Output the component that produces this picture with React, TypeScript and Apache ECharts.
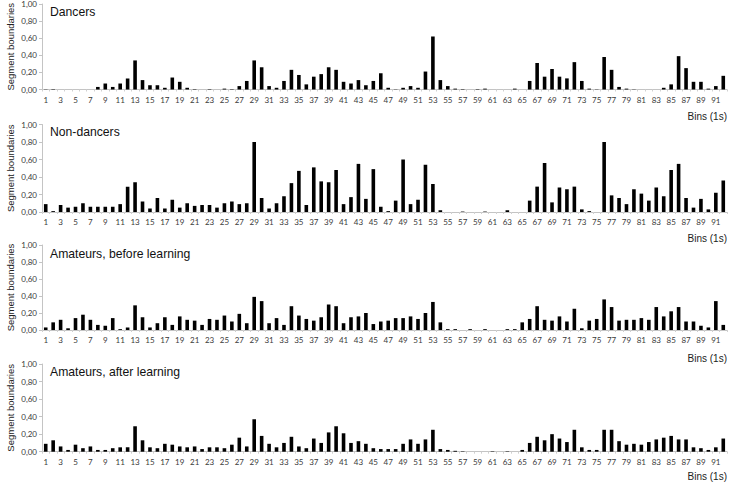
import React, { useEffect, useRef } from "react";
import * as echarts from "echarts";

const bins: string[] = Array.from({ length: 92 }, (_, i) => String(i + 1));

const panelTitles = ["Dancers", "Non-dancers", "Amateurs, before learning", "Amateurs, after learning"];

const dancers = [
  0.003, 0.005, 0, 0, 0, 0, 0, 0.03, 0.07, 0.03,
  0.07, 0.13, 0.34, 0.11, 0.05, 0.05, 0.02, 0.14, 0.09, 0.02,
  0.005, 0, 0.005, 0, 0.01, 0.005, 0.04, 0.10, 0.34, 0.26,
  0.04, 0.02, 0.10, 0.23, 0.17, 0.06, 0.15, 0.18, 0.26, 0.23,
  0.09, 0.07, 0.11, 0.05, 0.10, 0.19, 0.02, 0.003, 0.02, 0.04,
  0.02, 0.21, 0.62, 0.11, 0.04, 0.01, 0.005, 0, 0.005, 0.01,
  0, 0, 0, 0.01, 0, 0.10, 0.31, 0.15, 0.24, 0.15,
  0.13, 0.32, 0.10, 0.01, 0.003, 0.38, 0.23, 0.03, 0.01, 0.003,
  0, 0, 0, 0.02, 0.06, 0.39, 0.25, 0.09, 0.09, 0.01,
  0.04, 0.16,
];

const nonDancers = [
  0.09, 0.01, 0.08, 0.05, 0.06, 0.10, 0.06, 0.06, 0.06, 0.06,
  0.09, 0.29, 0.34, 0.12, 0.04, 0.16, 0.04, 0.14, 0.05, 0.10,
  0.07, 0.08, 0.08, 0.05, 0.10, 0.12, 0.09, 0.10, 0.80, 0.16,
  0.04, 0.10, 0.18, 0.33, 0.47, 0.08, 0.51, 0.35, 0.34, 0.48,
  0.09, 0.17, 0.55, 0.15, 0.49, 0.06, 0.01, 0.13, 0.60, 0.09,
  0.14, 0.54, 0.32, 0.02, 0, 0, 0.005, 0, 0, 0.005,
  0, 0, 0.02, 0, 0, 0.13, 0.29, 0.56, 0.11, 0.28,
  0.26, 0.29, 0.03, 0.01, 0, 0.80, 0.19, 0.16, 0.09, 0.26,
  0.21, 0.13, 0.28, 0.18, 0.48, 0.55, 0.16, 0.05, 0.15, 0.03,
  0.22, 0.36,
];

const amateursBefore = [
  0.03, 0.09, 0.12, 0.02, 0.14, 0.18, 0.12, 0.06, 0.05, 0.14,
  0.01, 0.03, 0.29, 0.15, 0.03, 0.08, 0.15, 0.06, 0.16, 0.12,
  0.11, 0.06, 0.13, 0.12, 0.17, 0.10, 0.19, 0.08, 0.39, 0.34,
  0.08, 0.14, 0.06, 0.28, 0.17, 0.13, 0.11, 0.15, 0.30, 0.28,
  0.08, 0.15, 0.16, 0.20, 0.07, 0.10, 0.11, 0.14, 0.14, 0.16,
  0.13, 0.20, 0.33, 0.09, 0.01, 0.01, 0, 0.01, 0, 0.01,
  0, 0, 0.01, 0.01, 0.09, 0.13, 0.28, 0.12, 0.11, 0.16,
  0.10, 0.25, 0.02, 0.11, 0.13, 0.36, 0.27, 0.11, 0.12, 0.12,
  0.14, 0.12, 0.27, 0.16, 0.22, 0.27, 0.10, 0.10, 0.05, 0.03,
  0.34, 0.06,
];

const amateursAfter = [
  0.09, 0.13, 0.06, 0.02, 0.08, 0.04, 0.06, 0.02, 0.02, 0.04,
  0.05, 0.05, 0.29, 0.13, 0.05, 0.04, 0.09, 0.08, 0.06, 0.05,
  0.06, 0.03, 0.05, 0.05, 0.04, 0.08, 0.16, 0.06, 0.37, 0.18,
  0.09, 0.05, 0.10, 0.17, 0.06, 0.04, 0.15, 0.10, 0.22, 0.29,
  0.21, 0.10, 0.12, 0.09, 0.04, 0.03, 0.03, 0.03, 0.09, 0.14,
  0.09, 0.14, 0.25, 0.03, 0.02, 0.01, 0.005, 0, 0, 0,
  0.005, 0, 0.005, 0, 0.02, 0.10, 0.17, 0.13, 0.20, 0.15,
  0.11, 0.25, 0.05, 0.02, 0.02, 0.25, 0.25, 0.12, 0.08, 0.09,
  0.08, 0.11, 0.14, 0.16, 0.18, 0.14, 0.14, 0.05, 0.04, 0.02,
  0.05, 0.15,
];

const seriesData = [dancers, nonDancers, amateursBefore, amateursAfter];

// layout (pixels)
const gridTops = [4, 124.5, 245, 364];
const gridHeights = [85.5, 87.5, 85, 87.7];
const titleCenters = [13, 132.7, 254.7, 373.3];
const binsCenters = [117.5, 239, 359.5, 477];

const App: React.FC = () => {
  const ref = useRef<HTMLDivElement>(null);

  useEffect(() => {
    if (!ref.current) return;
    const chart = echarts.init(ref.current, undefined, { renderer: "svg" });

    const grids = gridTops.map((t, i) => ({
      left: 42,
      width: 685,
      top: t,
      height: gridHeights[i],
      containLabel: false,
      outerBoundsMode: "none",
    }));

    const xAxes = seriesData.map((_, i) => ({
      type: "category" as const,
      gridIndex: i,
      data: bins,
      boundaryGap: true,
      axisLine: { show: true, lineStyle: { color: "#c4c4c4", width: 1 } },
      axisTick: { show: true, interval: 0, length: 2, lineStyle: { color: "#d0d0d0" } },
      axisLabel: {
        interval: 1,
        fontSize: 8,
        color: "#3a3a3a",
        fontFamily: "Lato, 'Liberation Sans', sans-serif",
        margin: 6,
      },
      splitLine: { show: false },
    }));

    const yAxes = seriesData.map((_, i) => ({
      type: "value" as const,
      gridIndex: i,
      min: 0,
      max: 1,
      interval: 0.2,
      name: "Segment boundaries",
      nameLocation: "middle" as const,
      nameRotate: 90,
      nameGap: 27,
      nameMoveOverlap: false,
      nameTextStyle: {
        fontSize: 9.5,
        color: "#222",
        fontFamily: "'Liberation Sans', Arial, sans-serif",
      },
      axisLine: { show: true, lineStyle: { color: "#c4c4c4", width: 1 } },
      axisTick: { show: true, length: 3, lineStyle: { color: "#c4c4c4" } },
      axisLabel: {
        fontSize: 8,
        color: "#3a3a3a",
        margin: 5,
        fontFamily: "Lato, 'Liberation Sans', sans-serif",
        formatter: (v: number) => v.toFixed(2).replace(".", ","),
      },
      splitLine: { show: false },
    }));

    const series = seriesData.map((d, i) => ({
      type: "bar" as const,
      xAxisIndex: i,
      yAxisIndex: i,
      data: d,
      barWidth: 3.6,
      itemStyle: { color: "#000" },
      silent: true,
    }));

    const titles: any[] = [];
    panelTitles.forEach((t, i) => {
      titles.push({
        text: t,
        left: 50,
        top: titleCenters[i] - 7,
        padding: 0,
        textStyle: {
          fontSize: 12.2,
          fontWeight: "normal",
          color: "#111",
          fontFamily: "'Liberation Sans', Arial, sans-serif",
        },
      });
      titles.push({
        text: "Bins (1s)",
        right: 3,
        top: binsCenters[i] - 6,
        padding: 0,
        textStyle: {
          fontSize: 10,
          fontWeight: "normal",
          color: "#222",
          fontFamily: "'Liberation Sans', Arial, sans-serif",
        },
      });
    });

    chart.setOption({
      animation: false,
      backgroundColor: "#fff",
      title: titles,
      grid: grids,
      xAxis: xAxes,
      yAxis: yAxes,
      series,
    });

    return () => chart.dispose();
  }, []);

  return (
    <div
      ref={ref}
      style={{ position: "absolute", left: 0, top: 0, width: 730, height: 484 }}
    />
  );
};

export default App;
